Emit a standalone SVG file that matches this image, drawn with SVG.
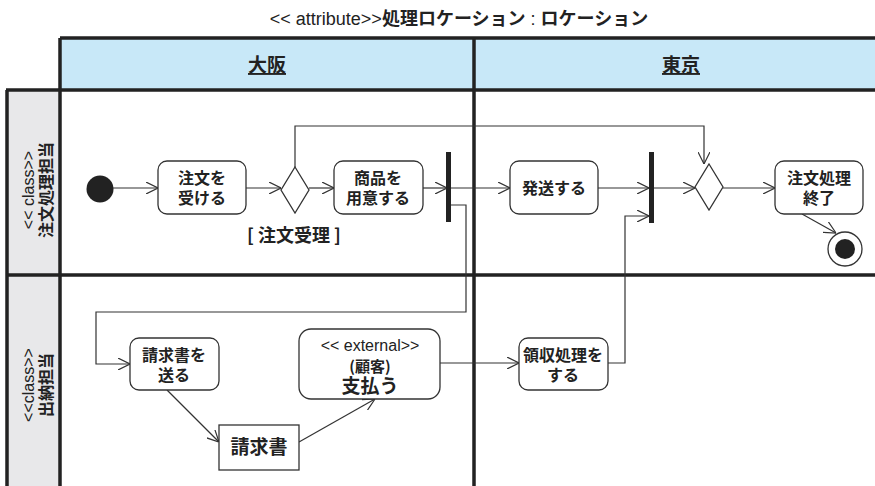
<svg xmlns="http://www.w3.org/2000/svg" width="875" height="486" viewBox="0 0 875 486">
<defs>
<style>
.t{font-family:"Liberation Sans","Noto Sans CJK JP",sans-serif;fill:#222;}
.j{font-family:"Noto Sans CJK JP","Liberation Sans",sans-serif;font-weight:bold;fill:#222;}
.n{fill:#fff;stroke:#333;stroke-width:1.3;}
.c{fill:none;stroke:#333;stroke-width:1.2;}
.lane{stroke:#222;stroke-width:3.5;fill:none;}
.bar{fill:#222;}
</style>
<marker id="a" viewBox="0 0 12 12" refX="12" refY="6" markerWidth="12" markerHeight="12" markerUnits="userSpaceOnUse" orient="auto">
<path d="M0,0 L12,6 L0,12" fill="none" stroke="#333" stroke-width="1.2"/>
</marker>
</defs>
<rect width="875" height="486" fill="#fff"/>

<g id="title">
<text x="459" y="25" text-anchor="middle" font-size="18"><tspan class="t">&lt;&lt; attribute&gt;&gt;</tspan><tspan class="j">処理ロケーション</tspan><tspan class="t">   : </tspan><tspan class="j">ロケーション</tspan></text>
</g>

<g id="swimlanes">
<rect x="60" y="38" width="815" height="52" fill="#c8e8f8"/>
<rect x="6" y="90" width="54" height="396" fill="#e8e8ea"/>
<path class="lane" d="M60,38 H875 M60,38 V486 M474,38 V486 M6,90 H875 M6,275 H875 M7,90 V486"/>
<text class="j" x="267" y="72" font-size="19" text-anchor="middle" text-decoration="underline">大阪</text>
<text class="j" x="681" y="72" font-size="19" text-anchor="middle" text-decoration="underline">東京</text>
<g transform="translate(34,190) rotate(-90)">
<text class="t" x="0" y="0" font-size="16" text-anchor="middle">&lt;&lt; class&gt;&gt;</text>
<text class="j" x="0" y="18" font-size="16" text-anchor="middle">注文処理担当</text>
</g>
<g transform="translate(34,385) rotate(-90)">
<text class="t" x="0" y="0" font-size="16" text-anchor="middle">&lt;&lt;class&gt;&gt;</text>
<text class="j" x="0" y="18" font-size="16" text-anchor="middle">出納担当</text>
</g>
</g>

<g id="connectors">
<path class="c" marker-end="url(#a)" d="M113,188 H158"/>
<path class="c" marker-end="url(#a)" d="M246,188 H281"/>
<path class="c" marker-end="url(#a)" d="M309,188 H334"/>
<path class="c" marker-end="url(#a)" d="M423,188 H447"/>
<path class="c" marker-end="url(#a)" d="M451,188 H510"/>
<path class="c" marker-end="url(#a)" d="M598,188 H649"/>
<path class="c" marker-end="url(#a)" d="M654,188 H695"/>
<path class="c" marker-end="url(#a)" d="M723,188 H775"/>
<path class="c" marker-end="url(#a)" d="M295,167 V126 H704 V164"/>
<path class="c" marker-end="url(#a)" d="M802,214 L836,233"/>
<path class="c" marker-end="url(#a)" d="M451,205 H466 V312 H96 V364 H130"/>
<path class="c" marker-end="url(#a)" d="M167,390 L219,442"/>
<path class="c" marker-end="url(#a)" d="M299,442 L375,399"/>
<path class="c" marker-end="url(#a)" d="M440,363 H519"/>
<path class="c" marker-end="url(#a)" d="M608,363 H625 V216 H649"/>
</g>

<g id="start"><circle cx="100" cy="189" r="13.5" fill="#222"/></g>

<g id="uketsukeru">
<rect class="n" x="158" y="161" width="88" height="53" rx="9"/>
<text class="j" x="202" y="184" font-size="16" text-anchor="middle">注文を</text>
<text class="j" x="202" y="204" font-size="16" text-anchor="middle">受ける</text>
</g>

<g id="decision1">
<polygon class="n" points="295,167 309,190 295,213 281,190"/>
<text class="j" x="294" y="242" font-size="18" text-anchor="middle">[ 注文受理 ]</text>
</g>

<g id="youi">
<rect class="n" x="334" y="161" width="89" height="53" rx="9"/>
<text class="j" x="378" y="184" font-size="16" text-anchor="middle">商品を</text>
<text class="j" x="378" y="204" font-size="16" text-anchor="middle">用意する</text>
</g>

<g id="fork1"><rect class="bar" x="446" y="152" width="5" height="70"/></g>

<g id="hassou">
<rect class="n" x="510" y="161" width="88" height="53" rx="9"/>
<text class="j" x="554" y="194" font-size="16" text-anchor="middle">発送する</text>
</g>

<g id="join1"><rect class="bar" x="649" y="152" width="5" height="71"/></g>

<g id="decision2"><polygon class="n" points="709,164 723,187 709,210 695,187"/></g>

<g id="shuryo">
<rect class="n" x="775" y="161" width="88" height="53" rx="9"/>
<text class="j" x="819" y="184" font-size="16" text-anchor="middle">注文処理</text>
<text class="j" x="819" y="204" font-size="16" text-anchor="middle">終了</text>
</g>

<g id="end">
<circle cx="845" cy="249" r="17" fill="#fff" stroke="#333" stroke-width="1.3"/>
<circle cx="845" cy="249" r="10" fill="#222"/>
</g>

<g id="seikyusho-okuru">
<rect class="n" x="130" y="338" width="89" height="52" rx="9"/>
<text class="j" x="174" y="361" font-size="16" text-anchor="middle">請求書を</text>
<text class="j" x="174" y="381" font-size="16" text-anchor="middle">送る</text>
</g>

<g id="seikyusho">
<rect class="n" x="219" y="425" width="80" height="45"/>
<text class="j" x="259" y="454" font-size="19" text-anchor="middle">請求書</text>
</g>

<g id="shiharau">
<rect class="n" x="299" y="329" width="141" height="70" rx="12"/>
<text class="t" x="370" y="351" font-size="16" text-anchor="middle">&lt;&lt; external&gt;&gt;</text>
<text class="j" x="370" y="372" font-size="15" text-anchor="middle">(顧客)</text>
<text class="j" x="370" y="393" font-size="19" text-anchor="middle">支払う</text>
</g>

<g id="ryoshu">
<rect class="n" x="519" y="338" width="89" height="52" rx="9"/>
<text class="j" x="563" y="361" font-size="16" text-anchor="middle">領収処理を</text>
<text class="j" x="563" y="381" font-size="16" text-anchor="middle">する</text>
</g>
</svg>
